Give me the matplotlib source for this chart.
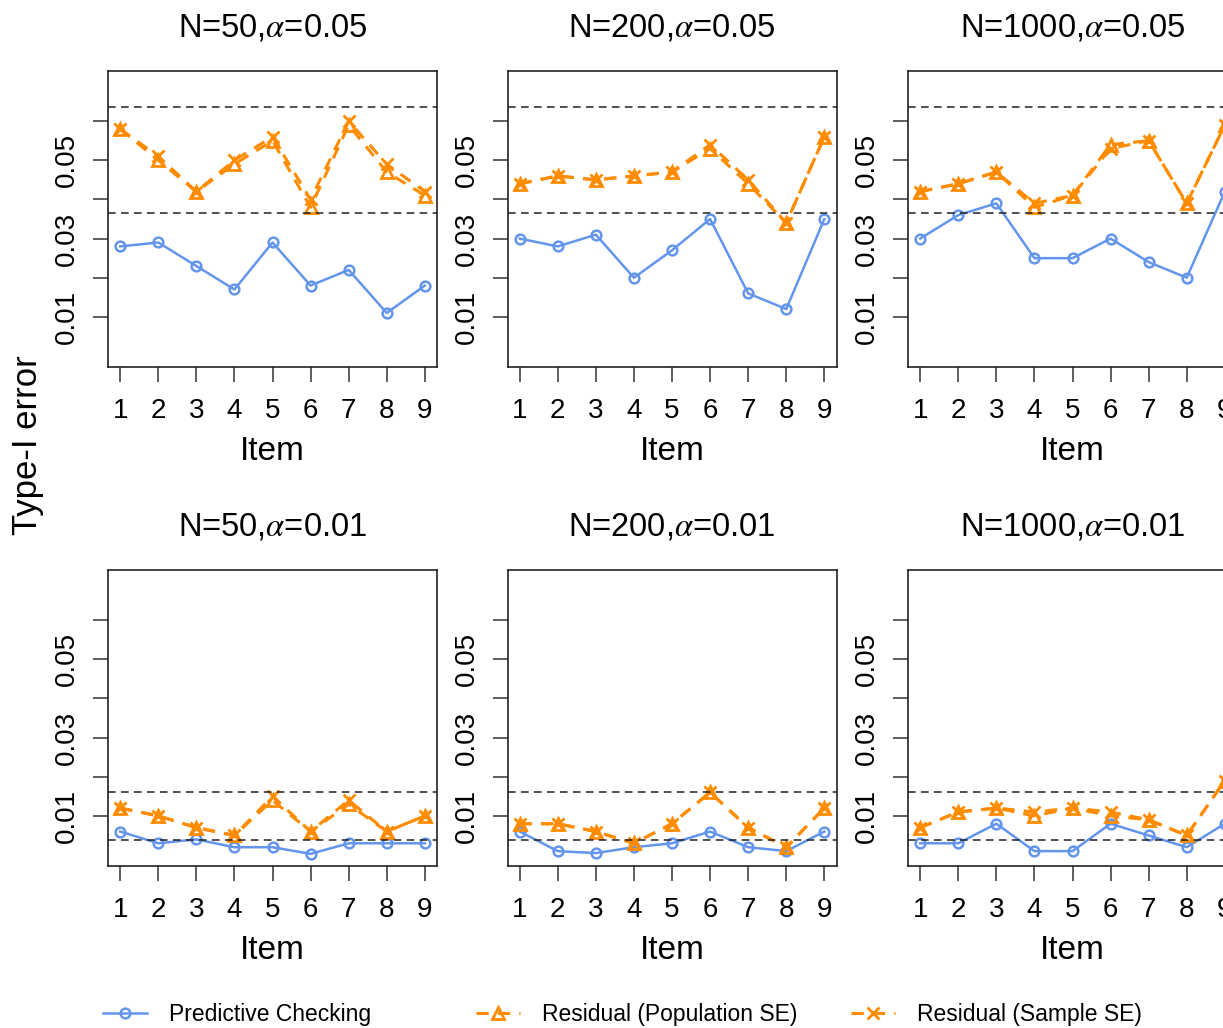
import matplotlib
matplotlib.use("Agg")
import matplotlib.pyplot as plt
from matplotlib.lines import Line2D

plt.rcParams['font.family'] = ['Liberation Sans', 'DejaVu Sans']
plt.rcParams['mathtext.fontset'] = 'stix'

items = [1, 2, 3, 4, 5, 6, 7, 8, 9]

# N=50, alpha=0.05
pc_50_05 = [0.028, 0.029, 0.023, 0.017, 0.029, 0.018, 0.022, 0.011, 0.018]
pop_50_05 = [0.058, 0.050, 0.042, 0.049, 0.055, 0.038, 0.059, 0.047, 0.041]
samp_50_05 = [0.058, 0.051, 0.042, 0.050, 0.056, 0.040, 0.060, 0.049, 0.042]
# N=200, alpha=0.05
pc_200_05 = [0.030, 0.028, 0.031, 0.020, 0.027, 0.035, 0.016, 0.012, 0.035]
pop_200_05 = [0.044, 0.046, 0.045, 0.046, 0.047, 0.053, 0.044, 0.034, 0.056]
samp_200_05 = [0.044, 0.046, 0.045, 0.046, 0.047, 0.054, 0.045, 0.034, 0.056]
# N=1000, alpha=0.05
pc_1000_05 = [0.030, 0.036, 0.039, 0.025, 0.025, 0.030, 0.024, 0.020, 0.042]
pop_1000_05 = [0.042, 0.044, 0.047, 0.038, 0.041, 0.054, 0.055, 0.039, 0.059]
samp_1000_05 = [0.042, 0.044, 0.047, 0.039, 0.041, 0.053, 0.055, 0.039, 0.059]
# N=50, alpha=0.01
pc_50_01 = [0.006, 0.003, 0.004, 0.002, 0.002, 0.0003, 0.003, 0.003, 0.003]
pop_50_01 = [0.012, 0.010, 0.007, 0.005, 0.014, 0.006, 0.013, 0.006, 0.010]
samp_50_01 = [0.012, 0.010, 0.007, 0.005, 0.015, 0.006, 0.014, 0.006, 0.010]
# N=200, alpha=0.01
pc_200_01 = [0.006, 0.001, 0.0005, 0.002, 0.003, 0.006, 0.002, 0.001, 0.006]
pop_200_01 = [0.008, 0.008, 0.006, 0.003, 0.008, 0.016, 0.007, 0.002, 0.012]
samp_200_01 = [0.008, 0.008, 0.006, 0.003, 0.008, 0.016, 0.007, 0.002, 0.012]
# N=1000, alpha=0.01
pc_1000_01 = [0.003, 0.003, 0.008, 0.001, 0.001, 0.008, 0.005, 0.002, 0.008]
pop_1000_01 = [0.007, 0.011, 0.012, 0.010, 0.012, 0.010, 0.009, 0.005, 0.019]
samp_1000_01 = [0.007, 0.011, 0.012, 0.011, 0.012, 0.011, 0.009, 0.005, 0.019]

titles = ["N=50,$\\alpha$=0.05", "N=200,$\\alpha$=0.05", "N=1000,$\\alpha$=0.05",
          "N=50,$\\alpha$=0.01", "N=200,$\\alpha$=0.01", "N=1000,$\\alpha$=0.01"]
pc_all = [pc_50_05, pc_200_05, pc_1000_05, pc_50_01, pc_200_01, pc_1000_01]
pop_all = [pop_50_05, pop_200_05, pop_1000_05, pop_50_01, pop_200_01, pop_1000_01]
samp_all = [samp_50_05, samp_200_05, samp_1000_05, samp_50_01, samp_200_01, samp_1000_01]
bounds_05 = [0.0365, 0.0635]
bounds_01 = [0.0038, 0.0162]

y_ticks = [0.01, 0.02, 0.03, 0.04, 0.05, 0.06]
y_labels = ["0.01", "", "0.03", "", "0.05", ""]

blue = "#6495ED"
orange = "#FF8C00"

W, H = 1223, 1028
fig = plt.figure(figsize=(W / 100, H / 100), dpi=100)

lefts = [108, 507.5, 908]
bottoms = [367, 866]
pw, ph = 329, 296

for k in range(6):
    r, c = divmod(k, 3)
    ax = fig.add_axes([lefts[c] / W, 1 - bottoms[r] / H, pw / W, ph / H])
    ax.plot(items, pc_all[k], color=blue, lw=1.8, marker='o', ms=7, mfc='none', mew=1.8)
    ax.plot(items, pop_all[k], color=orange, lw=2.2, ls=(0, (4, 3)), marker='^', ms=9, mfc='none', mew=2)
    ax.plot(items, samp_all[k], color=orange, lw=2.2, ls=(0, (4, 3)), marker='x', ms=8, mew=2)
    b = bounds_05 if r == 0 else bounds_01
    for v in b:
        ax.axhline(v, color='#222222', lw=1.1, ls=(0, (5, 3.5)))
    ax.set_xlim(0.68, 9.32)
    ax.set_ylim(-0.0028, 0.0728)
    ax.set_xticks(items)
    ax.set_yticks(y_ticks)
    ax.set_yticklabels(y_labels, rotation=90, va='center')
    ax.tick_params(axis='x', length=11, width=1.1, pad=11, labelsize=20, color='#333333')
    ax.tick_params(axis='y', length=11, width=1.1, pad=9, labelsize=20, color='#333333')
    for s in ax.spines.values():
        s.set_linewidth(1.2)
        s.set_color('#222222')
    ax.text(0.5, 1 + 35 / ph, titles[k], transform=ax.transAxes, ha='center', va='baseline', fontsize=23.5)
    ax.text(0.5, -93 / ph, "Item", transform=ax.transAxes, ha='center', va='baseline', fontsize=24)

fig.text(28 / W, 1 - 445 / H, "Type-I error", rotation=90, ha='center', va='center', fontsize=25)

# legend entries
leg_items = [
    (Line2D([], [], color=blue, lw=1.8, marker='o', ms=7, mfc='none', mew=1.8), "Predictive Checking", 103),
    (Line2D([], [], color=orange, lw=2.2, ls=(0, (4, 3)), marker='^', ms=9, mfc='none', mew=2), "Residual (Population SE)", 476),
    (Line2D([], [], color=orange, lw=2.2, ls=(0, (4, 3)), marker='x', ms=8, mew=2), "Residual (Sample SE)", 851),
]
for h, lab, x in leg_items:
    fig.legend(handles=[h], labels=[lab], loc='center left', bbox_to_anchor=(x / W, 1 - 1015 / H),
               frameon=False, fontsize=16.5, handlelength=1.9, handletextpad=1.0,
               borderpad=0, borderaxespad=0, numpoints=1)

fig.savefig("out.png", dpi=100)
